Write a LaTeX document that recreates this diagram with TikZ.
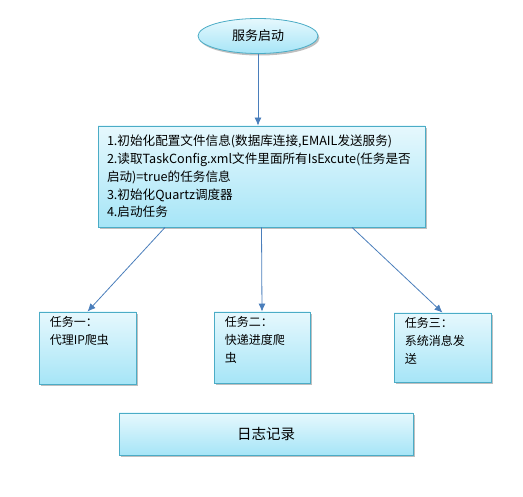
\documentclass[tikz,border=0pt]{standalone}
\usepackage{fontspec}
\setmainfont{Noto Sans CJK SC}
\usepackage{xcolor}
\usepackage{tikz}
\usetikzlibrary{shapes.geometric, arrows.meta, positioning, shadows}

\definecolor{boxtop}{HTML}{E6F8FD}
\definecolor{boxbottom}{HTML}{A6E5F7}
\definecolor{boxline}{HTML}{4BACC6}
\definecolor{flowblue}{HTML}{4A7EBB}

\begin{document}
\begin{tikzpicture}[x=1pt, y=-1pt,
        box/.style={draw=boxline, line width=0.8pt, top color=boxtop, bottom color=boxbottom,
            drop shadow={shadow xshift=1.5pt, shadow yshift=-2pt, fill=black, opacity=0.25}},
        tasktext/.style={anchor=north west, align=left, inner sep=0pt, font=\fontsize{12}{18}\selectfont},
        flow/.style={draw=flowblue, line width=0.8pt, -{Latex[length=8pt, width=7pt]}}]
        \useasboundingbox (0,0) rectangle (523,497);

        \node[box, ellipse, minimum width=120pt, minimum height=35pt, font=\fontsize{13}{15}\selectfont] (start) at (258,36) {服务启动};

        % Init
        \node[box, minimum width=327pt, minimum height=101pt, inner xsep=9pt, text width=309pt, align=left, font=\fontsize{12.6}{17.7}\selectfont] (init) at (261.5,176.5) {1.初始化配置文件信息(数据库连接,EMAIL发送服务)\\2.读取TaskConfig.xml文件里面所有IsExcute(任务是否\\启动)=true的任务信息\\3.初始化Quartz调度器\\4.启动任务};

        % Tasks
        \node[box, minimum width=97pt, minimum height=72pt] (task1) at (87.5,348) {};
        \node[box, minimum width=96pt, minimum height=71pt] (task2) at (262,347.5) {};
        \node[box, minimum width=97pt, minimum height=69pt] (task3) at (442.5,347.5) {};
        \node[tasktext] (task1Text) at ([shift={(11,5)}]task1.north west) {任务一：\\代理IP爬虫};
        \node[tasktext] (task2Text) at ([shift={(11,5)}]task2.north west) {任务二：\\快递进度爬\\虫};
        \node[tasktext] (task3Text) at ([shift={(11,5)}]task3.north west) {任务三：\\系统消息发\\送};

        \node[box, minimum width=294pt, minimum height=42pt, font=\fontsize{14.5}{16}\selectfont] (log) at (266,434) {日志记录};

        \draw[flow] (start.south) -- (start.south |- init.north);
        \draw[flow] ([xshift=-96.5pt]init.south) -- (task1.north);
        \draw[flow] (init.south) -- (task2.north);
        \draw[flow] ([xshift=90.5pt]init.south) -- (task3.north);
    \end{tikzpicture}
\end{document}
